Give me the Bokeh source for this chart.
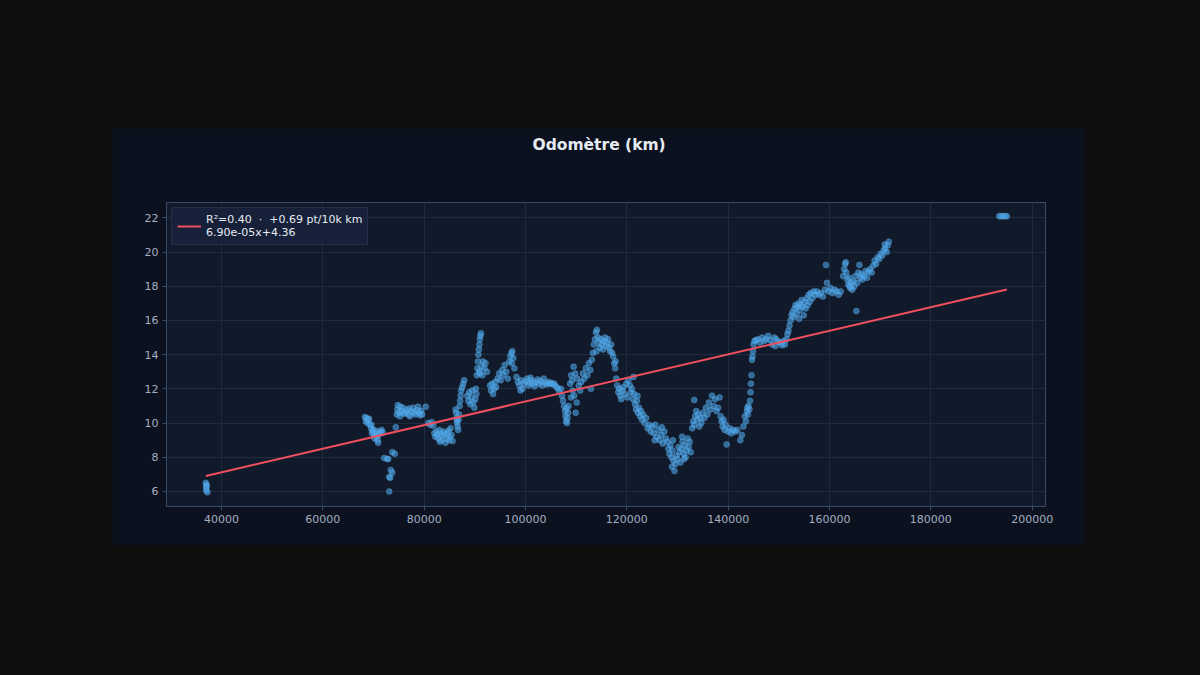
from bokeh.plotting import figure
from bokeh.models import FixedTicker, BasicTickFormatter, Range1d, Legend, LegendItem, GlobalInlineStyleSheet, ColumnDataSource, Title
from bokeh.embed import file_html
from bokeh.resources import INLINE

# ---- data ----
seg_a_x = [36900, 37000, 37100, 37000, 37200, 36950]
seg_a_y = [6.5, 6.4, 6.3, 6.05, 5.95, 6.2]

seg_b_x = [68300, 68500, 68600, 68800, 69000, 69100, 69300, 69500, 69600, 69800, 70000, 70100, 70300, 70500, 70600, 70800, 70900, 71000, 71200, 71400, 71600, 71800, 70200, 69700,
           72100, 72700, 72900, 73700, 74200, 73400, 73700, 73100, 73300, 73100]
seg_b_y = [10.35, 10.1, 10.3, 10.0, 10.2, 10.25, 9.9, 9.7, 9.9, 9.5, 9.6, 9.3, 9.4, 9.55, 9.2, 9.0, 8.85, 9.3, 9.4, 9.5, 9.6, 9.45, 9.1, 9.4,
           7.95, 7.9, 7.9, 8.3, 8.2, 7.25, 7.1, 6.85, 6.8, 6.0]

seg_c_x = [74400, 74600, 74700, 74800, 75000, 75200, 75500, 75800, 76000, 76300, 76600, 76900, 77200, 77500, 77800, 78000, 78300, 78600, 78800, 79000, 79200, 79400, 79600, 80300, 75300, 77000]
seg_c_y = [9.75, 10.5, 10.8, 11.05, 10.6, 10.4, 10.7, 10.9, 10.55, 10.6, 10.75, 10.5, 10.4, 10.7, 10.9, 10.6, 10.5, 10.75, 10.95, 10.6, 10.45, 10.7, 10.5, 10.95, 10.95, 10.85]

seg_d_x = [80800, 81200, 81500, 81800, 82000, 82200, 82400, 82600, 82800, 83000, 83200, 83400, 83600, 83800, 84000, 84200, 84400, 84600, 84800, 85000, 85200, 85400, 85600, 83100, 84900]
seg_d_y = [10.0, 9.9, 10.05, 9.85, 9.4, 9.2, 9.5, 9.3, 9.1, 9.6, 9.4, 9.0, 9.25, 9.5, 9.35, 8.85, 9.1, 9.4, 9.55, 9.2, 9.7, 9.3, 8.95, 8.9, 9.0]

seg_e_x = [86200, 86300, 86400, 86500, 86600, 86700, 86800, 86900, 87000, 87100, 87200, 87300, 87500, 87700, 87900, 86450]
seg_e_y = [10.8, 10.6, 10.3, 10.0, 9.8, 9.6, 10.2, 10.5, 11.0, 11.3, 11.6, 11.9, 12.1, 12.3, 12.5, 10.15]

seg_f_x = [88500, 88700, 88900, 89100, 89300, 89500, 89700, 89900, 90100, 90300, 90200, 90400, 90500, 90600, 90700, 90800, 90900, 91000, 91100, 91200, 90850, 91000, 91300, 91600, 91900, 92100, 92400, 91500]
seg_f_y = [11.6, 11.3, 11.8, 11.1, 11.5, 11.9, 11.2, 10.9, 11.4, 11.7, 12.0, 12.8, 13.2, 13.6, 14.0, 14.3, 14.6, 14.9, 15.1, 15.25, 13.0, 12.9, 13.3, 13.6, 13.2, 13.5, 13.0, 12.8]

seg_g_x = [93000, 93200, 93400, 93600, 93800, 94000, 94200, 94500, 94800, 95100, 95400, 95600, 95900, 96200, 96500, 96800, 97000, 97200, 97400, 97600, 97800, 97300]
seg_g_y = [12.2, 11.9, 12.3, 11.7, 12.0, 12.4, 12.1, 12.6, 12.9, 12.5, 13.1, 12.8, 13.4, 13.0, 12.6, 13.6, 13.9, 14.1, 14.2, 13.8, 13.2, 13.5]

seg_h_x = [98200, 98500, 98800, 99100, 99400, 99700, 100000, 100300, 100600, 100900, 101200, 101500, 101800, 102100, 102400, 102700, 103000, 103300, 103600, 103900, 104200, 104500, 104800, 105100, 105400, 105700, 106000, 106300, 106600, 99000, 101000]
seg_h_y = [12.7, 12.4, 12.2, 12.5, 12.0, 12.3, 12.45, 12.6, 12.2, 12.35, 12.5, 12.3, 12.15, 12.4, 12.55, 12.3, 12.45, 12.2, 12.6, 12.35, 12.25, 12.4, 12.3, 12.35, 12.25, 12.3, 12.15, 12.05, 11.9, 11.9, 12.65]

seg_i_x = [107000, 107200, 107400, 107600, 107800, 107900, 108000, 108200, 108300, 108400, 108500, 108100, 109000, 109300, 109600, 109900, 110100]
seg_i_y = [12.0, 11.6, 11.3, 11.0, 10.7, 10.4, 10.1, 10.0, 10.3, 10.6, 11.0, 10.85, 11.5, 11.9, 11.6, 10.6, 11.2]

seg_j_x = [108800, 109000, 109200, 109500, 109800, 110200, 110500, 110800, 111000, 111300, 111600, 111900, 112200, 112500, 112800, 112900, 113100]
seg_j_y = [12.3, 12.8, 12.5, 13.3, 12.9, 12.6, 12.2, 11.9, 12.4, 12.9, 12.6, 13.2, 12.8, 13.5, 13.1, 12.0, 13.7]

seg_k_x = [113300, 113500, 113700, 113900, 114100, 114300, 114500, 114700, 114900, 115100, 115300, 115500, 115700, 115900, 116100, 116300, 116500, 116700, 116900, 117100, 117300, 117500, 117700, 117800, 114000]
seg_k_y = [14.1, 14.6, 14.9, 15.3, 15.45, 15.0, 14.7, 14.4, 14.9, 14.6, 14.3, 14.8, 15.0, 14.5, 14.7, 14.9, 14.4, 14.2, 14.6, 14.1, 13.9, 13.5, 13.2, 13.6, 14.2]

seg_l_x = [117900, 118100, 118300, 118500, 118700, 118900, 119100, 119300, 119600, 119900, 120100]
seg_l_y = [12.6, 12.2, 11.8, 12.0, 11.6, 11.4, 11.9, 12.1, 11.7, 12.3, 11.5]

seg_m_x = [120300, 120600, 120800, 121000, 121200, 121400, 121600, 121800, 122000, 122200, 122400, 122600, 122800, 123000, 123200, 123500, 123800, 124100, 124400, 121300, 122100]
seg_m_y = [12.5, 12.2, 11.8, 12.0, 11.4, 11.7, 11.1, 10.8, 11.3, 10.6, 10.9, 10.4, 10.7, 10.2, 10.5, 10.0, 10.3, 9.7, 9.9, 12.7, 11.6]

seg_n_x = [124700, 125000, 125300, 125600, 125900, 126200, 126500, 126800, 127100, 127400, 127700, 128000, 125500, 126900]
seg_n_y = [9.5, 9.8, 9.4, 9.9, 9.2, 9.6, 9.0, 9.3, 8.8, 9.5, 9.1, 8.9, 9.0, 9.75]

seg_o_x = [128200, 128400, 128600, 128800, 129000, 129200, 129400, 129600, 129800, 130000, 130200, 130400, 130600, 130800, 131000, 131200, 131400, 131600, 131800, 132000, 132200, 132400, 132600, 129100, 130900, 128900, 131300]
seg_o_y = [8.5, 8.2, 8.7, 8.0, 8.4, 7.8, 7.2, 7.6, 8.1, 7.9, 8.6, 8.3, 7.7, 8.5, 8.9, 8.2, 8.7, 8.0, 8.4, 9.1, 8.6, 8.9, 8.3, 9.0, 9.2, 7.45, 7.9]

seg_p_x = [132900, 133100, 133300, 133500, 133700, 133900, 134100, 134300, 134500, 134700, 135000, 135300, 135600, 135900, 136200, 136500, 136800, 137100, 137400, 137700, 138000, 138300, 133300]
seg_p_y = [9.7, 10.1, 9.9, 10.4, 10.7, 10.2, 10.5, 9.8, 10.3, 10.0, 10.6, 10.3, 10.9, 10.5, 11.2, 10.8, 11.6, 11.0, 11.4, 10.7, 10.9, 11.5, 11.35]

seg_q_x = [138500, 138700, 138900, 139100, 139300, 139500, 139700, 140000, 140300, 140600, 141000, 141400, 141800]
seg_q_y = [10.4, 10.1, 9.8, 10.2, 9.6, 9.9, 8.75, 9.5, 9.7, 9.4, 9.6, 9.5, 9.6]

seg_r_x = [142400, 142700, 143000, 143300, 143500, 143700, 143900, 144000, 144200, 144300, 144400, 144500, 144600, 144700, 144800, 144900, 145000, 145200, 143800]
seg_r_y = [9.0, 9.3, 9.8, 10.4, 10.1, 10.7, 10.5, 11.0, 10.8, 11.3, 11.8, 12.3, 12.8, 13.7, 13.9, 14.2, 14.6, 14.8, 10.9]

seg_s_x = [145500, 145900, 146300, 146700, 147100, 147500, 147900, 148300, 148700, 149100, 149500, 149900, 150300, 150600, 150900, 151200, 149300]
seg_s_y = [14.85, 14.9, 14.7, 15.0, 14.8, 14.9, 15.1, 14.85, 14.6, 15.0, 14.9, 14.75, 14.7, 14.55, 14.8, 14.6, 14.5]

seg_t_x = [151500, 151700, 151900, 152100, 152300, 152500, 152700, 152900, 153100, 153300, 153500, 153700, 153900, 154100, 154300, 154500, 154700, 154900, 155100, 155300, 155500, 155700, 155900, 156100, 156300, 156600, 156900, 157200, 154000]
seg_t_y = [14.9, 15.2, 15.4, 15.7, 16.0, 16.3, 16.5, 16.2, 16.7, 16.9, 16.4, 16.8, 17.0, 16.6, 16.9, 17.2, 16.8, 16.3, 17.1, 16.7, 17.3, 16.9, 17.5, 17.1, 17.6, 17.3, 17.7, 17.5, 16.1]

seg_u_x = [157500, 157900, 158300, 158700, 159100, 159300, 159500, 159800, 160200, 160600, 161000, 161400, 161800, 162200]
seg_u_y = [17.7, 17.5, 17.6, 17.4, 17.8, 19.25, 18.2, 17.7, 17.9, 17.6, 17.8, 17.7, 17.5, 17.7]

seg_v_x = [162700, 162900, 163100, 163300, 163500, 163700, 163900, 164100, 164300, 164500, 164700, 164900, 165100, 165300, 165500, 165700, 165900, 166100, 166300, 166500, 163200, 164000]
seg_v_y = [18.6, 19.0, 19.3, 18.8, 18.4, 18.1, 18.5, 17.9, 18.2, 17.8, 18.3, 18.0, 18.6, 16.55, 18.2, 18.8, 19.25, 18.5, 18.7, 18.4, 19.4, 18.0]

seg_w_x = [166800, 167100, 167400, 167700, 168000, 168300, 168600, 168900, 169200, 169500, 169800, 170100, 170400, 170700, 171000, 171300, 171500, 171700, 170900]
seg_w_y = [18.6, 18.9, 18.5, 18.85, 19.0, 18.8, 19.2, 19.5, 19.3, 19.7, 19.6, 19.9, 19.8, 20.1, 20.2, 20.0, 20.4, 20.6, 20.45]

seg_x_x = [193500, 193900, 194300, 194700, 195000]
seg_x_y = [22.1, 22.1, 22.1, 22.1, 22.1]

fit_slope = 6.90e-05
fit_intercept = 4.36
legend_label = "R\u00b2=0.40  \u00b7  +0.69 pt/10k km\n6.90e-05x+4.36"
title_text = "Odom\u00e8tre (km)"
x_ticks = [40000, 60000, 80000, 100000, 120000, 140000, 160000, 180000, 200000]
y_ticks = [6, 8, 10, 12, 14, 16, 18, 20, 22]

odo = (seg_a_x + seg_b_x + seg_c_x + seg_d_x + seg_e_x + seg_f_x + seg_g_x + seg_h_x + seg_i_x + seg_j_x +
       seg_k_x + seg_l_x + seg_m_x + seg_n_x + seg_o_x + seg_p_x + seg_q_x + seg_r_x + seg_s_x + seg_t_x +
       seg_u_x + seg_v_x + seg_w_x + seg_x_x)
val = (seg_a_y + seg_b_y + seg_c_y + seg_d_y + seg_e_y + seg_f_y + seg_g_y + seg_h_y + seg_i_y + seg_j_y +
       seg_k_y + seg_l_y + seg_m_y + seg_n_y + seg_o_y + seg_p_y + seg_q_y + seg_r_y + seg_s_y + seg_t_y +
       seg_u_y + seg_v_y + seg_w_y + seg_x_y)

# ---- styling ----
PAGE = "#0e0e0e"
PANEL = "#0b111e"
PLOT = "#111a2a"
GRID = "#1f2b3e"
AXIS = "#3a4a66"
TICK = "#a3afc2"
FONT = "DejaVu Sans"

p = figure(width=973, height=417, output_backend="svg", toolbar_location=None,
           x_range=Range1d(29140, 202630), y_range=Range1d(5.12, 22.9),
           min_border_left=54, min_border_right=40, min_border_top=74, min_border_bottom=39)
p.margin = (128, 0, 0, 112)
p.stylesheets = [GlobalInlineStyleSheet(css="html, body { background: %s; }" % PAGE)]

p.background_fill_color = PLOT
p.border_fill_color = PANEL
p.outline_line_color = AXIS
p.outline_line_width = 1

# blank spacer between frame and title (keeps the title high in the panel)
spacer = Title(text=" ", text_font=FONT, text_font_size="15.5px", standoff=27)
p.add_layout(spacer, "above")

p.title.text = title_text
p.title.align = "left"
p.title.offset = 366
p.title.vertical_align = "top"
p.title.text_font = FONT
p.title.text_font_size = "15.5px"
p.title.text_font_style = "bold"
p.title.text_color = "#e6ebf2"
p.title.standoff = 0

for ax in (p.xaxis[0], p.yaxis[0]):
    ax.axis_line_color = AXIS
    ax.major_tick_line_color = AXIS
    ax.major_tick_out = 4
    ax.major_tick_in = 0
    ax.minor_tick_line_color = None
    ax.major_label_text_color = TICK
    ax.major_label_text_font = FONT
    ax.major_label_text_font_size = "11px"
    ax.major_label_standoff = 4

p.xaxis.ticker = FixedTicker(ticks=x_ticks)
p.yaxis.ticker = FixedTicker(ticks=y_ticks)
p.xaxis.formatter = BasicTickFormatter(use_scientific=False)

p.xgrid.ticker = FixedTicker(ticks=x_ticks)
p.ygrid.ticker = FixedTicker(ticks=y_ticks)
p.grid.grid_line_color = GRID
p.grid.grid_line_width = 1

src = ColumnDataSource(dict(x=odo, y=val))
p.scatter("x", "y", source=src, size=6, fill_color="#4aa3e8", fill_alpha=0.6,
          line_color="#6bb6ef", line_alpha=0.5, line_width=0.6)

x0 = min(odo)
x1 = max(odo)
fit = p.line([x0, x1], [fit_slope * x0 + fit_intercept, fit_slope * x1 + fit_intercept],
             line_color="#f04f5f", line_width=2)

legend = Legend(items=[LegendItem(label=legend_label, renderers=[fit])], location="top_left")
legend.background_fill_color = "#17223a"
legend.background_fill_alpha = 0.95
legend.border_line_color = "#2f3d58"
legend.border_line_width = 1
legend.label_text_color = "#e6ebf2"
legend.label_text_font = FONT
legend.label_text_font_size = "11px"
legend.label_text_line_height = 1.1
legend.glyph_width = 24
legend.margin = 5
legend.padding = 5
legend.spacing = 0
p.add_layout(legend, "center")

open("out.html", "w").write(file_html(p, INLINE))
